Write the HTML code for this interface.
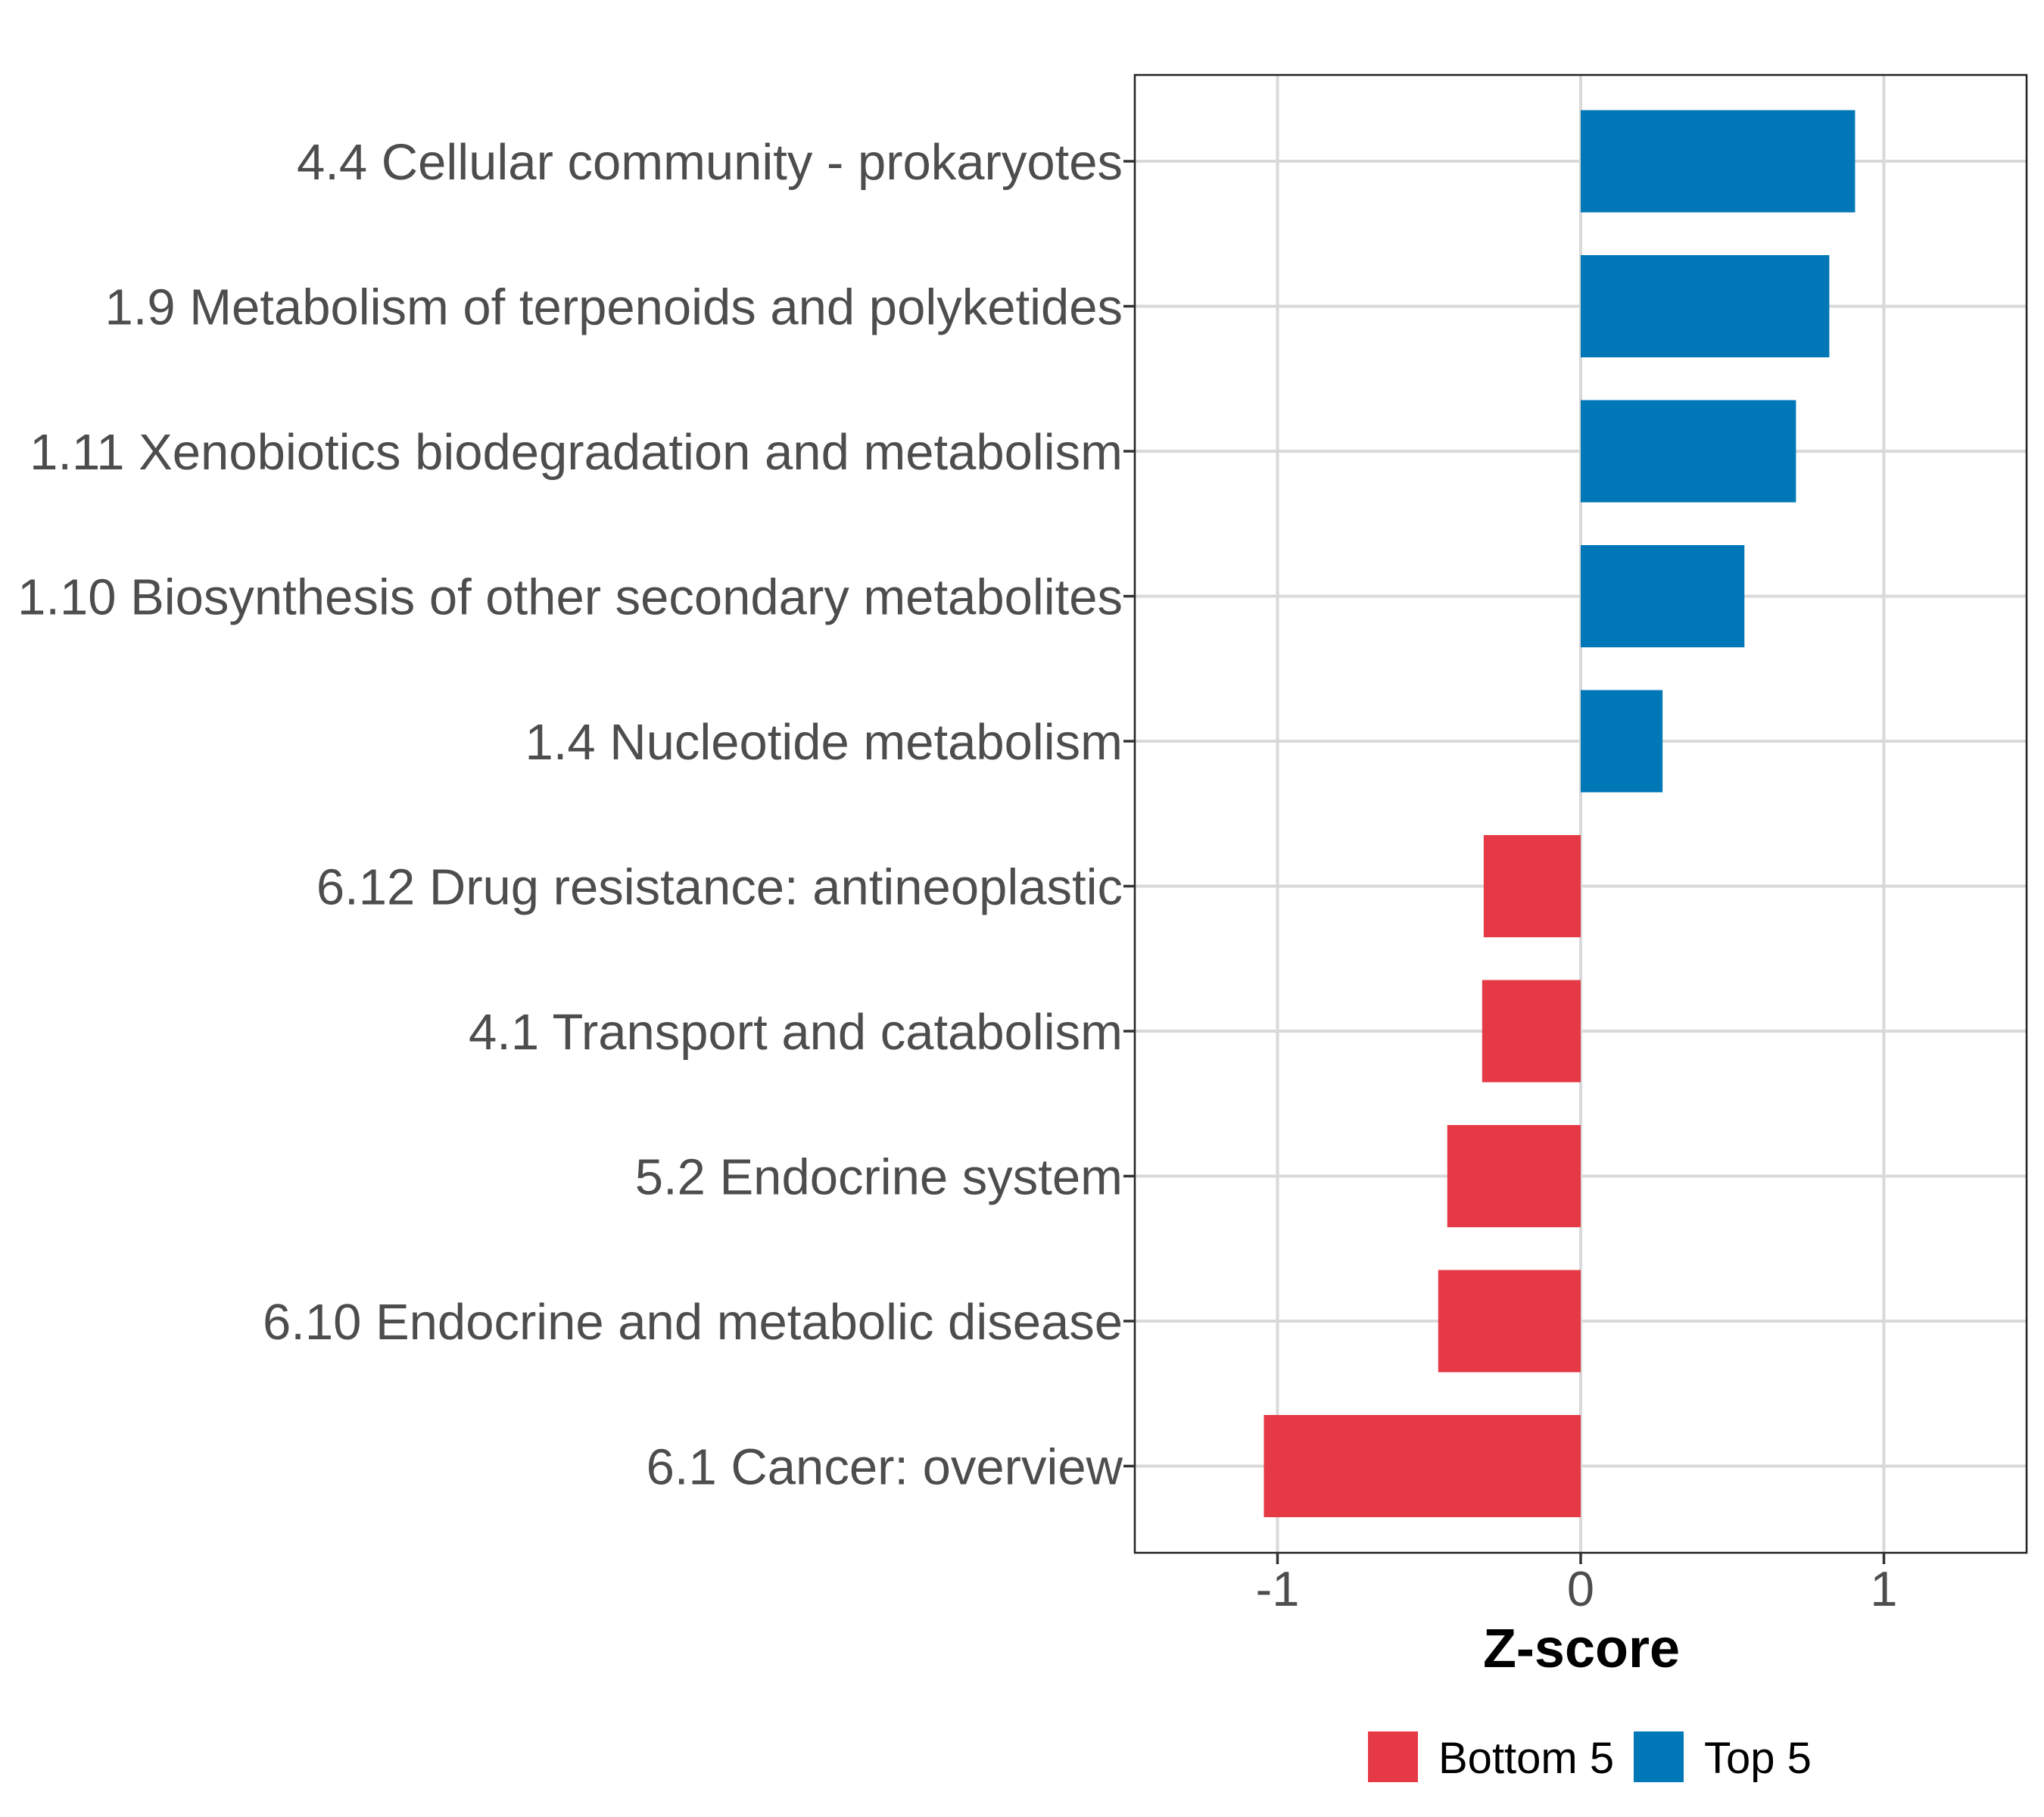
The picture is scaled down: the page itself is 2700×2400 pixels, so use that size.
<!DOCTYPE html>
<html><head><meta charset="utf-8"><style>
html,body{margin:0;padding:0;background:#fff;}
svg{display:block;font-family:"Liberation Sans",Arial,sans-serif;}
</style></head><body>
<svg id="chart" width="2700" height="2400" viewBox="0 0 2700 2400" xmlns="http://www.w3.org/2000/svg">
<rect width="2700" height="2400" fill="#fff"/>
<g id="grid"></g><g id="bars"></g><g id="axes"></g>
</svg>
<script>
const categories = ["4.4 Cellular community - prokaryotes","1.9 Metabolism of terpenoids and polyketides","1.11 Xenobiotics biodegradation and metabolism","1.10 Biosynthesis of other secondary metabolites","1.4 Nucleotide metabolism","6.12 Drug resistance: antineoplastic","4.1 Transport and catabolism","5.2 Endocrine system","6.10 Endocrine and metabolic disease","6.1 Cancer: overview"];
const zValues = [0.905, 0.82, 0.71, 0.54, 0.27, -0.32, -0.325, -0.44, -0.47, -1.045];
const groups = ["Top 5","Top 5","Top 5","Top 5","Top 5","Bottom 5","Bottom 5","Bottom 5","Bottom 5","Bottom 5"];
const xTicks = [-1, 0, 1];
const legendLabels = ["Bottom 5", "Top 5"];

const NS="http://www.w3.org/2000/svg";
const P={l:1499,r:2677,t:99,b:2051};
const colors={"Bottom 5":"#E63946","Top 5":"#0077B6"};
function xS(v){return 2088+v*400.5;}
function yS(i){return 213+i*191.5;}
const bh=135;
function mk(tag,attrs,parent){const e=document.createElementNS(NS,tag);for(const k in attrs)e.setAttribute(k,attrs[k]);parent.appendChild(e);return e;}
const gG=document.getElementById('grid'),gB=document.getElementById('bars'),gA=document.getElementById('axes');
xTicks.forEach(t=>{
  const l=mk('line',{x1:xS(t),x2:xS(t),y1:P.t,y2:P.b,stroke:'#D9D9D9','stroke-width':4},gG);
  
  
});
categories.forEach((c,i)=>{
  const l=mk('line',{x1:P.l,x2:P.r,y1:yS(i),y2:yS(i),stroke:'#D9D9D9','stroke-width':4},gG);
  
  
});
zValues.forEach((v,i)=>{
  const x0=Math.min(xS(0),xS(v)),w=Math.abs(xS(v)-xS(0));
  const r=mk('rect',{x:x0,y:yS(i)-bh/2,width:w,height:bh,fill:colors[groups[i]]},gB);
  
  
});
const border=mk('rect',{x:P.l,y:P.t,width:P.r-P.l,height:P.b-P.t,fill:'none',stroke:'#222','stroke-width':2.5},gA);


categories.forEach((c,i)=>{
  const tk=mk('line',{x1:P.l-15,x2:P.l,y1:yS(i),y2:yS(i),stroke:'#333','stroke-width':3.5},gA);
  
  
  const t=mk('text',{x:P.l-16,y:yS(i)+24,'text-anchor':'end','font-size':67,fill:'#4D4D4D'},gA);
  t.textContent=c;
  
  
});
xTicks.forEach(v=>{
  const tk=mk('line',{x1:xS(v),x2:xS(v),y1:P.b,y2:P.b+15,stroke:'#333','stroke-width':3.5},gA);
  
  
  const t=mk('text',{x:xS(v),y:2121,'text-anchor':'middle','font-size':65,fill:'#4D4D4D'},gA);
  t.textContent=String(v);
  
  
});
const xt=mk('text',{x:2089,y:2202,'text-anchor':'middle','font-size':72,'font-weight':'bold',fill:'#000'},gA);
xt.textContent='Z-score';


const lx=[1807,2158];
legendLabels.forEach((lab,i)=>{
  const k=mk('rect',{x:lx[i],y:2287,width:66,height:67,fill:colors[lab]},gA);
  
  
  const t=mk('text',{x:lx[i]+93,y:2342,'font-size':58,fill:'#000'},gA);
  t.textContent=lab;
  
  
});
</script>
</body></html>
